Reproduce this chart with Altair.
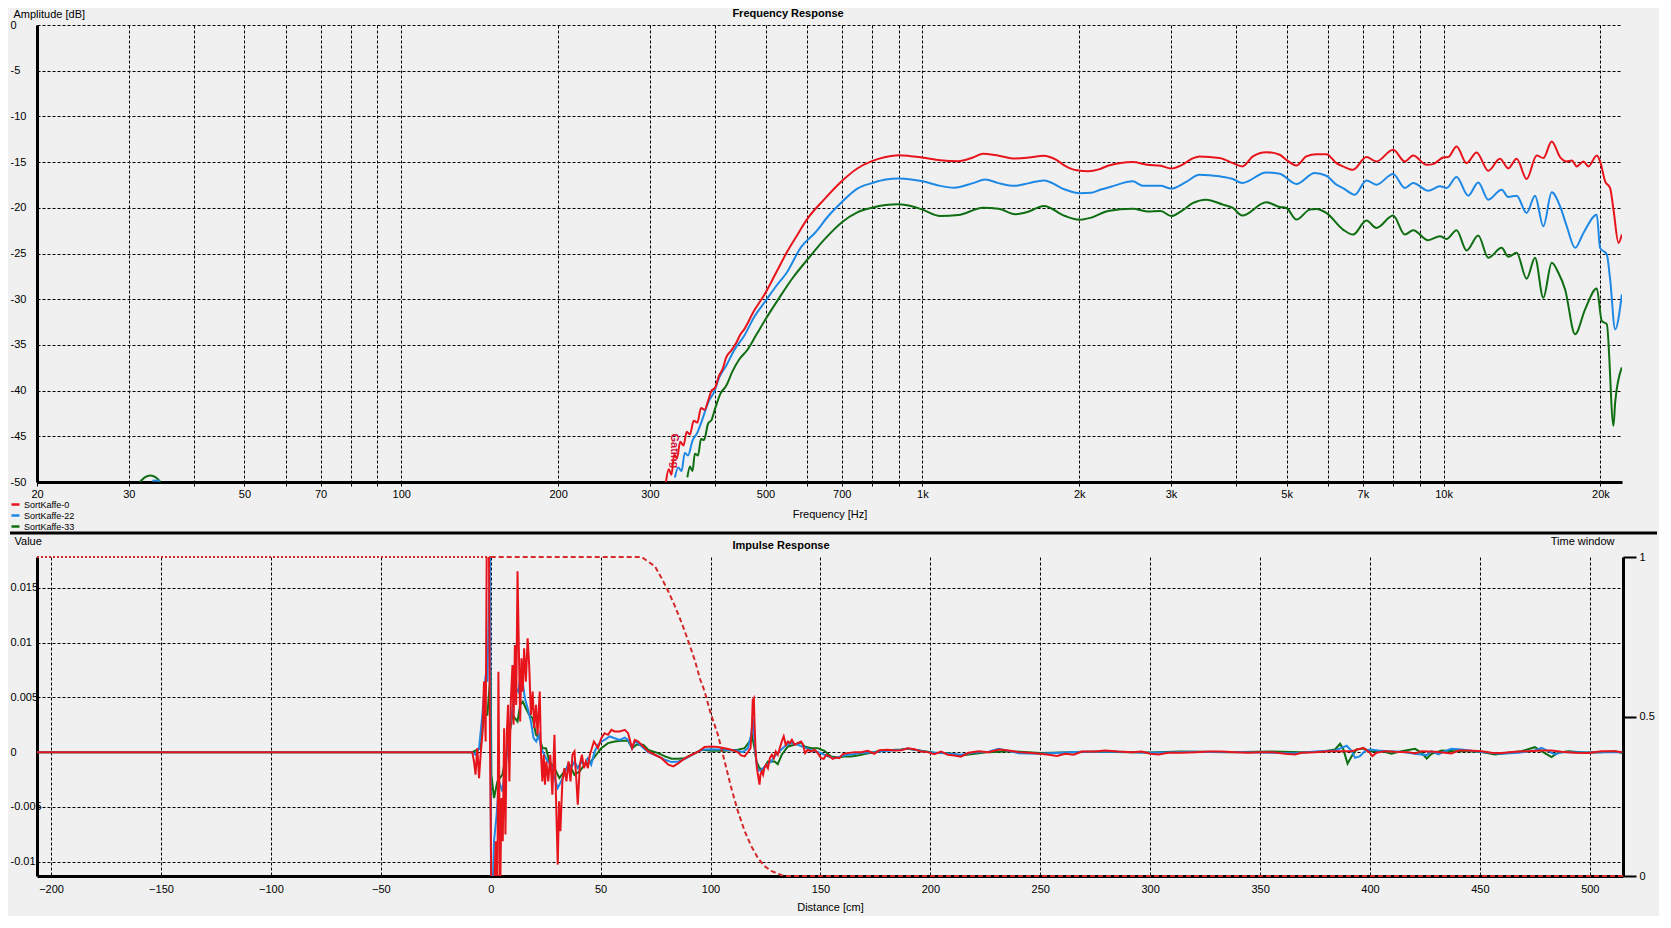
import altair as alt
import pandas as pd

FONT = "Liberation Sans"
BG = "#f0f0f0"
INK = "#000000"
SERIES = ["SortKaffe-0", "SortKaffe-22", "SortKaffe-33"]
COLORS = ["#e8141c", "#1e88e5", "#0f6e12"]
WINDOW_COLOR = "#d42a2a"
GATING_COLOR = "#d0103a"

# ---------------- Frequency response (Hz, dB) ----------------
FR_RED = [(322,-50.0),(326,-48.6),(330,-49.2),(334,-47.0),(338,-47.4),(343,-45.6),(348,-46.0),(353,-44.5),(358,-44.8),(364,-43.3),(370,-43.5),(376,-41.9),(382,-42.1),(388,-41.1),(394,-40.0),(400,-39.7),(407,-38.4),(414,-37.6),(420,-36.4),(430,-35.6),(440,-34.7),(447,-33.9),(455,-33.3),(475,-31.3),(500,-29.3),(525,-27.0),(549,-24.9),(575,-23.0),(600,-21.3),(650,-19.0),(700,-17.1),(750,-15.7),(800,-14.9),(850,-14.45),(900,-14.24),(950,-14.35),(1000,-14.5),(1082,-14.8),(1171,-14.9),(1250,-14.5),(1307,-14.1),(1400,-14.3),(1506,-14.6),(1600,-14.5),(1710,-14.3),(1800,-14.7),(1878,-15.4),(1980,-15.9),(2080,-16.0),(2180,-15.8),(2270,-15.4),(2400,-15.1),(2533,-15.0),(2700,-15.3),(2866,-15.4),(3000,-15.7),(3150,-15.3),(3300,-14.6),(3401,-14.38),(3716,-14.56),(3943,-15.11),(4109,-15.47),(4306,-14.38),(4568,-13.91),(4849,-14.2),(4994,-14.75),(5220,-15.36),(5453,-14.38),(5700,-14.13),(5957,-14.13),(6228,-15.11),(6413,-15.47),(6704,-15.84),(7112,-14.45),(7432,-14.93),(8003,-13.65),(8428,-14.93),(8744,-14.27),(9275,-15.29),(9552,-15.22),(9986,-14.49),(10209,-14.45),(10593,-13.29),(11071,-15.11),(11571,-13.95),(12186,-15.95),(12829,-14.64),(13312,-15.69),(13812,-14.64),(14436,-16.85),(15090,-14.27),(15541,-14.56),(16128,-12.75),(16734,-14.45),(17236,-14.93),(17622,-14.82),(18016,-15.47),(18555,-14.93),(18967,-15.47),(19679,-14.27),(19971,-14.93),(20420,-17.1),(20877,-17.84),(21188,-20.2),(21663,-23.84),(21985,-22.93)]

FR_BLUE = [(335,-49.5),(340,-48.4),(345,-48.8),(350,-46.8),(355,-47.1),(362,-45.5),(370,-44.6),(378,-43.2),(388,-41.3),(398,-40.2),(408,-38.5),(420,-37.3),(435,-35.6),(455,-34.0),(475,-32.0),(500,-30.2),(525,-28.5),(549,-27.1),(585,-24.3),(623,-22.7),(660,-20.9),(700,-19.4),(750,-17.9),(800,-17.3),(850,-16.9),(900,-16.8),(950,-16.9),(1000,-17.1),(1082,-17.6),(1150,-17.8),(1250,-17.3),(1320,-16.9),(1400,-17.3),(1506,-17.6),(1600,-17.3),(1710,-17.0),(1878,-18.0),(2000,-18.4),(2110,-18.35),(2200,-18.0),(2300,-17.7),(2533,-17.1),(2650,-17.6),(2866,-17.6),(3000,-17.9),(3200,-17.2),(3401,-16.38),(3716,-16.56),(3943,-16.85),(4109,-17.29),(4568,-16.13),(4849,-16.27),(5220,-17.4),(5660,-16.2),(5957,-16.49),(6228,-17.47),(6413,-17.84),(6757,-18.56),(7112,-17.0),(7432,-17.47),(8003,-16.31),(8428,-17.84),(8744,-17.29),(9344,-18.13),(9840,-17.65),(10133,-17.84),(10593,-16.64),(11152,-18.67),(11657,-17.22),(12186,-19.11),(12924,-18.02),(13312,-18.82),(13812,-18.67),(14436,-20.56),(14980,-18.67),(15541,-22.02),(16128,-18.31),(16734,-19.84),(17236,-22.02),(17883,-24.38),(18555,-22.75),(19679,-20.75),(19971,-24.38),(20573,-25.11),(20877,-27.84),(21346,-33.29),(21985,-29.47)]

FR_GREEN = [(354,-49.5),(358,-48.3),(362,-48.8),(366,-46.9),(371,-47.1),(376,-45.3),(381,-45.4),(388,-43.6),(394,-43.2),(400,-42.0),(410,-40.3),(420,-39.5),(432,-37.9),(445,-36.6),(462,-35.5),(480,-33.9),(500,-32.2),(532,-29.8),(565,-27.6),(603,-25.6),(650,-23.4),(700,-21.6),(750,-20.5),(800,-20.0),(850,-19.7),(900,-19.6),(950,-19.8),(1000,-20.2),(1082,-20.9),(1171,-20.8),(1307,-20.0),(1400,-20.1),(1506,-20.7),(1600,-20.4),(1710,-19.8),(1878,-20.9),(2000,-21.3),(2100,-21.1),(2270,-20.35),(2533,-20.1),(2700,-20.4),(2866,-20.35),(3000,-20.9),(3150,-20.3),(3300,-19.5),(3502,-19.11),(3772,-19.65),(3943,-20.02),(4109,-20.85),(4568,-19.4),(4849,-19.91),(4994,-20.02),(5220,-21.29),(5536,-20.2),(5700,-20.13),(5957,-20.56),(6413,-22.38),(6704,-22.93),(7112,-21.4),(7432,-22.2),(8003,-20.85),(8428,-22.93),(8744,-22.45),(9344,-23.55),(9840,-23.11),(10133,-23.4),(10593,-22.45),(11071,-24.67),(11657,-23.04),(12186,-25.47),(12924,-24.38),(13312,-25.36),(13812,-24.93),(14436,-27.76),(14980,-25.47),(15541,-29.84),(16128,-26.02),(16610,-27.11),(17110,-28.93),(17883,-33.84),(18690,-31.11),(19679,-28.82),(20120,-32.38),(20573,-32.75),(21188,-43.84),(21346,-41.29),(21985,-37.47)]

FR_GREEN_LOW = [(31.5,-50.0),(32.2,-49.5),(33.0,-49.3),(33.8,-49.5),(34.5,-50.0)]
FR_BLUE_LOW = [(33.3,-49.85),(34.4,-49.85)]

GATING_LABEL = [(333, -46.6, "Gating")]

FREQ_GRID = [20,30,40,50,60,70,80,90,100,200,300,400,500,600,700,800,900,
             1000,2000,3000,4000,5000,6000,7000,8000,9000,10000,20000]
FREQ_LABELS = [20,30,50,70,100,200,300,500,700,1000,2000,3000,5000,7000,10000,20000]
DB_TICKS = [-50,-45,-40,-35,-30,-25,-20,-15,-10,-5,0]

# ---------------- Impulse response (cm, value x 1e-3) ----------------
IR_RED = [(-206.4,0),(-9.0,0),(-8.4,0),(-7.6,-0.85),(-6.9,-2.06),(-6.1,0.36),(-5.3,-2.37),(-4.6,-0.24),(-3.8,1.58),(-3.05,6.43),(-2.3,0.97),(-1.8,19.0),(-0.8,19.0),(-0.3,0.36),(0.3,-13.0),(1.5,-13.0),(2.3,-8.13),(3.05,-13.0),(3.5,7.34),(4.3,-13.0),(4.9,-4.19),(5.5,-8.13),(6.1,2.18),(6.7,-7.52),(7.3,1.58),(7.9,4.31),(8.5,-2.67),(9.15,4.61),(9.9,7.95),(10.4,2.49),(11.0,9.77),(11.6,4.31),(12.2,16.5),(12.8,9.47),(13.4,2.79),(14.0,8.56),(14.6,5.52),(15.2,9.47),(16.0,6.43),(16.8,10.38),(17.5,7.95),(18.3,3.40),(19.1,5.52),(19.8,2.18),(20.6,4.31),(21.3,1.58),(22.3,5.52),(22.9,-0.24),(23.5,-2.67),(24.1,-0.24),(24.7,-2.97),(25.3,-0.85),(26.2,-2.67),(27.1,-0.24),(28.05,-3.88),(29.0,1.58),(29.9,-5.70),(30.5,-10.26),(31.1,-4.49),(31.7,-7.22),(32.6,-2.67),(33.5,-1.46),(34.45,-2.67),(35.4,-0.85),(36.3,-2.67),(37.2,-0.24),(38.1,0.06),(39.0,-2.67),(39.6,-4.79),(40.55,-1.15),(41.5,-0.24),(42.4,-1.46),(43.3,-0.85),(44.2,-1.46),(45.1,-0.24),(46.0,0.36),(46.95,0.97),(47.9,0.67),(48.8,0.36),(50.3,1.27),(51.8,1.73),(53.35,1.58),(54.9,2.03),(56.4,1.88),(58.7,1.88),(61.0,2.03),(62.5,1.73),(63.3,1.12),(64.3,0.36),(65.55,1.12),(67.1,0.97),(68.6,0.67),(71.65,0.06),(74.7,-0.24),(77.7,-0.55),(80.8,-1.15),(83.1,-1.30),(85.4,-1.00),(88.4,-0.55),(91.5,-0.24),(94.5,0.06),(97.3,0.46),(100.3,0.52),(103.3,0.46),(106.4,0.36),(109.4,0.21),(112.4,0),(113.9,-0.30),(115.5,-0.39),(117.0,0),(118.2,0.36),(118.8,2.18),(119.2,4.76),(119.7,4.92),(120.0,2.79),(120.5,0.06),(121.1,-1.46),(121.8,-2.37),(122.3,-2.97),(122.7,-2.06),(123.3,-1.76),(123.9,-2.06),(124.5,-1.46),(125.3,-1.15),(126.1,-1.46),(127.0,-0.55),(127.9,-0.24),(128.8,-0.55),(129.7,0.06),(130.6,-0.24),(131.5,0.36),(132.4,0.97),(133.3,1.43),(134.2,0.67),(135.2,0.97),(136.1,0.82),(137.0,1.12),(138.2,0.67),(139.7,0.82),(141.2,0.97),(142.1,0.67),(143.0,-0.09),(144.2,0.21),(145.8,0.06),(147.3,0.21),(148.8,-0.09),(150.3,-0.55),(151.5,-0.61),(152.7,-0.24),(154.1,-0.39),(155.6,-0.61),(157.1,-0.49),(158.6,-0.55),(160.2,-0.18),(162.4,-0.09),(165.5,0),(168.5,0),(171.5,0.12),(174.5,-0.15),(176.8,0.18),(180.6,0.21),(183.6,0.15),(186.7,0.18),(189.7,0.36),(192.7,0.27),(195.8,0.06),(198.8,0),(201.8,-0.18),(204.9,0.06),(207.9,-0.24),(210.9,-0.30),(213.9,-0.42),(217.4,-0.06),(222.0,0.09),(226.5,0),(231.1,0.24),(235.6,0.15),(240.2,0),(244.7,-0.06),(250,-0.15),(253.8,-0.24),(257.6,-0.36),(261.4,-0.15),(265.2,-0.24),(268.9,0.06),(275.0,0.06),(279.5,0.15),(285.6,0.06),(291.7,0),(296.2,0.06),(300,-0.15),(303.8,-0.21),(308.3,-0.06),(314.4,-0.06),(320.5,0),(326.5,0.06),(332.6,0.06),(338.6,0),(344.7,-0.06),(350,0),(355.3,0),(361.4,-0.15),(365.9,-0.21),(368.9,-0.06),(375.0,0),(381.1,0.09),(385.6,0.09),(391.7,0.09),(397.0,0.39),(400,-0.06),(401.1,-0.36),(403.0,-0.06),(406.8,0.09),(411.4,0.03),(417.4,0),(420.5,-0.12),(423.5,0.09),(429.5,0.03),(434.1,-0.06),(437.1,-0.12),(440.2,0.15),(444.7,0.15),(450.8,0.09),(455.3,-0.06),(459.8,-0.09),(465.9,0.03),(472.0,0.09),(478.0,0.15),(482.6,0.15),(487.1,0.03),(493.2,-0.06),(499.2,-0.09),(505.3,0.09),(511.4,0.09),(514.8,0)]

IR_BLUE = [(-206.4,0),(-8.4,0),(-6.9,-0.24),(-5.3,0.36),(-3.8,3.40),(-2.3,7.04),(-1.5,6.43),(-0.3,19.0),(0.15,-13.0),(0.8,-13.0),(1.5,-8.13),(2.7,-5.70),(3.8,-2.67),(5.3,-3.58),(6.9,-1.15),(8.4,1.58),(9.9,4.00),(11.4,5.83),(12.5,5.52),(13.4,6.74),(14.5,6.43),(15.55,4.92),(16.8,4.00),(18.3,2.79),(19.5,1.27),(20.7,0.97),(21.95,1.58),(22.9,0.36),(24.4,-0.24),(25.9,-0.85),(27.4,-1.15),(29.0,-2.37),(30.5,-3.28),(32.0,-2.67),(33.5,-2.06),(35.1,-1.15),(36.6,-1.46),(38.1,-0.85),(39.6,-1.46),(41.2,-0.85),(42.7,-1.15),(44.2,-0.55),(45.7,-1.15),(47.3,0.06),(48.8,0.67),(50.3,0.97),(51.8,1.12),(54.1,1.43),(56.4,1.27),(58.7,1.12),(61.0,1.33),(62.5,1.12),(64.3,0.36),(65.55,0.97),(67.8,0.67),(71.65,0),(76.2,-0.39),(79.3,-0.70),(82.3,-0.91),(85.4,-0.85),(88.4,-0.61),(93.0,-0.09),(96.0,0.21),(100.3,0.27),(106.4,0.21),(112.4,0.12),(114.7,0),(117.0,0.36),(118.5,1.58),(119.2,3.09),(120.0,0.97),(120.8,-0.85),(121.5,-1.61),(122.7,-1.70),(123.9,-1.46),(125.5,-1.15),(127.6,-0.85),(129.7,-0.24),(132.1,0.21),(134.5,0.67),(136.7,0.82),(139.7,0.67),(143.5,0.36),(145.8,0.18),(148.0,0.06),(150.3,-0.09),(153.3,-0.39),(156.4,-0.55),(159.4,-0.39),(162.4,-0.24),(165.5,-0.18),(168.5,-0.09),(174.5,0),(180.6,0.12),(186.7,0.21),(189.7,0.33),(194.2,0.18),(198.8,0),(204.9,-0.09),(213.9,-0.24),(220.0,-0.03),(226.5,0.03),(231.1,0.30),(240.2,-0.10),(250,-0.15),(253.8,-0.10),(268.9,0.03),(285.6,0.03),(300,-0.06),(320.5,0.03),(344.7,0),(365.9,-0.10),(376.5,0.09),(384.1,0.15),(387.1,0.39),(389.4,0.58),(391.7,0.09),(393.2,-0.52),(395.5,-0.36),(397.7,0.09),(400,0.24),(403.8,0.15),(408.3,0.09),(414.4,0.03),(420.5,-0.15),(425.8,-0.27),(428.0,0.09),(431.1,-0.21),(434.1,0.09),(437.1,0.30),(441.7,0.24),(447.7,0.09),(453.8,-0.06),(459.8,-0.15),(467.4,-0.06),(475.0,0.15),(478.0,0.39),(481.1,0.09),(484.1,-0.21),(487.1,0),(493.2,0),(499.2,-0.03),(505.3,0),(514.8,0)]

IR_GREEN = [(-206.4,0),(-8.4,0),(-4.6,0.36),(-3.05,3.40),(-1.5,3.40),(0,7.40),(0.3,-2.06),(1.5,-4.19),(3.05,-2.67),(5.3,-2.06),(7.6,0.36),(9.9,3.40),(12.2,2.79),(13.4,4.31),(14.6,4.61),(16.0,4.00),(17.5,3.40),(19.1,3.09),(20.6,1.58),(22.1,1.27),(23.6,0.36),(25.15,0.36),(26.7,-0.85),(29.0,-1.46),(31.25,-2.37),(33.5,-1.76),(35.8,-1.15),(38.1,-2.06),(40.4,-1.76),(42.7,-1.15),(45.7,-0.85),(48.0,-0.24),(50.3,0.36),(53.35,0.82),(56.4,0.97),(59.45,1.03),(62.5,1.03),(64.3,0.36),(66.3,0.67),(69.4,0.67),(71.65,0.21),(76.2,-0.09),(79.3,-0.39),(82.3,-0.61),(85.4,-0.61),(88.4,-0.55),(93.0,-0.09),(96.0,0.21),(100.3,0.12),(106.4,0.12),(112.4,0.21),(115.5,0.36),(117.7,0.97),(118.8,1.58),(120.0,0.36),(120.9,-0.85),(122.3,-1.46),(123.9,-1.61),(126.1,-0.85),(129.1,-0.85),(130.6,-1.09),(132.4,-0.24),(135.2,0.52),(138.2,0.67),(141.2,0.91),(142.7,0.52),(145.8,0.36),(148.8,0.36),(151.8,0.12),(154.8,-0.39),(157.9,-0.49),(160.9,-0.39),(163.9,-0.39),(167.0,-0.30),(170.0,-0.18),(173.0,-0.06),(177.6,0.12),(180.6,0.18),(186.7,0.24),(189.7,0.30),(195.8,0.12),(201.8,-0.06),(207.9,-0.09),(213.9,-0.30),(226.5,0),(235.6,0.09),(250,-0.09),(275,0.03),(300,-0.03),(314,0.06),(335,0),(355,0.06),(368.9,0),(378.0,0.03),(384.1,0.24),(386.4,0.76),(387.9,0.24),(389.8,-1.06),(391.7,-0.36),(393.9,0.24),(397.0,0.33),(400,0.09),(405.3,0.09),(409.8,-0.15),(414.4,0.09),(420.5,0.30),(423.5,-0.06),(425.8,-0.58),(428.0,-0.15),(432.6,0.15),(438.6,0.09),(444.7,0.09),(450.8,0),(456.8,-0.21),(462.9,-0.06),(469.0,0.09),(475.0,0.45),(478.0,0.09),(482.6,-0.45),(485.6,-0.06),(490.2,0.09),(497.7,-0.03),(505.3,0),(511.4,0.09),(514.8,-0.09)]

WINDOW_PRE = [(-206.4,1.0),(0,1.0)]
WINDOW_POST = [(0,1.0),(68.6,1.0),(74.7,0.971),(77.7,0.934),(80.8,0.892),(83.8,0.846),(86.9,0.793),(89.9,0.736),(93.0,0.673),(95.3,0.616),(97.3,0.579),(100,0.511),(103.3,0.444),(106.4,0.36),(109.4,0.277),(112.4,0.204),(115.5,0.141),(118.5,0.094),(121.5,0.057),(124.5,0.031),(127.6,0.016),(132.1,0.003),(133.6,0.0),(515.1,0.0)]

DIST_TICKS = [-200,-150,-100,-50,0,50,100,150,200,250,300,350,400,450,500]
VALUE_TICKS = [-0.01,-0.005,0,0.005,0.01,0.015]
WINDOW_TICKS = [0,0.5,1]

# ---------------- frames ----------------
def fr_frame(pairs, name, seg):
    return pd.DataFrame({"f": [p[0] for p in pairs], "db": [p[1] for p in pairs],
                         "series": name, "seg": seg})

fr_red = fr_frame(FR_RED, SERIES[0], 0)
fr_blue = pd.concat([fr_frame(FR_BLUE_LOW, SERIES[1], 0), fr_frame(FR_BLUE, SERIES[1], 1)])
fr_green = pd.concat([fr_frame(FR_GREEN_LOW, SERIES[2], 0), fr_frame(FR_GREEN, SERIES[2], 1)])
gating_df = pd.DataFrame({"f": [g[0] for g in GATING_LABEL], "db": [g[1] for g in GATING_LABEL],
                          "t": [g[2] for g in GATING_LABEL]})

def ir_frame(pairs):
    return pd.DataFrame({"d": [p[0] for p in pairs], "v": [p[1] / 1000.0 for p in pairs]})

win_df = pd.concat([
    pd.DataFrame({"d": [p[0] for p in WINDOW_PRE], "w": [p[1] for p in WINDOW_PRE], "part": "pre"}),
    pd.DataFrame({"d": [p[0] for p in WINDOW_POST], "w": [p[1] for p in WINDOW_POST], "part": "post"}),
])
one_row = pd.DataFrame({"k": [0]})

# ---------------- top panel ----------------
W_TOP, H_TOP = 1585, 457
freq_label_expr = (
    "indexof(" + str(FREQ_LABELS) + ", datum.value) >= 0 ? "
    "(datum.value >= 1000 ? (datum.value / 1000) + 'k' : '' + datum.value) : ''"
)
x_f = alt.X("f:Q", scale=alt.Scale(type="log", domain=[20, 22000], nice=False),
            axis=alt.Axis(values=FREQ_GRID, labelExpr=freq_label_expr, grid=True,
                          ticks=True, tickSize=4, tickColor=INK, labelPadding=2,
                          domainWidth=3, title="Frequency [Hz]", titlePadding=9))
y_db = alt.Y("db:Q", scale=alt.Scale(domain=[-50, 0], nice=False),
             axis=alt.Axis(values=DB_TICKS, labelExpr="'' + datum.value", grid=True,
                           ticks=False, labelAlign="left", labelPadding=27, domainWidth=3,
                           title="Amplitude [dB]", titleAngle=0, titleAlign="left",
                           titleBaseline="middle", titleX=-24, titleY=-10.5))
col = alt.Color("series:N", scale=alt.Scale(domain=SERIES, range=COLORS),
                legend=alt.Legend(orient="none", legendX=-27, legendY=474, title=None,
                                  direction="vertical", labelFontSize=9, labelFont=FONT,
                                  labelColor=INK, symbolType="stroke", symbolStrokeWidth=2.5,
                                  symbolSize=64, rowPadding=-3, labelOffset=3, padding=0))

def fr_line(df):
    return alt.Chart(df).mark_line(strokeWidth=2, clip=True, interpolate="monotone").encode(
        x=x_f, y=y_db, color=col, detail="seg:N")

gating = alt.Chart(gating_df).mark_text(angle=90, color=GATING_COLOR, fontSize=11,
                                        fontWeight="bold", font=FONT).encode(
    x=x_f, y=y_db, text="t:N")

top_title = alt.Chart(one_row).mark_text(fontWeight="bold", fontSize=11, font=FONT, color=INK,
                                         align="center", baseline="middle").encode(
    x=alt.value(751), y=alt.value(-10.7), text=alt.value("Frequency Response"))

separator = alt.Chart(one_row).mark_rule(color=INK, strokeWidth=3).encode(
    x=alt.value(-27), x2=alt.value(1620), y=alt.value(508))

top = alt.layer(gating, fr_line(fr_green), fr_line(fr_blue), fr_line(fr_red),
                top_title, separator).properties(width=W_TOP, height=H_TOP)

# ---------------- bottom panel ----------------
W_BOT, H_BOT = 1586, 319
x_d = alt.X("d:Q", scale=alt.Scale(domain=[-206.4, 515.1], nice=False),
            axis=alt.Axis(values=DIST_TICKS, grid=True, ticks=False, labelPadding=7,
                          domainWidth=3, title="Distance [cm]", titlePadding=7))
y_v = alt.Y("v:Q", scale=alt.Scale(domain=[-0.0113, 0.0178], nice=False),
            axis=alt.Axis(values=VALUE_TICKS, labelExpr="'' + datum.value", grid=True,
                          ticks=False, labelAlign="left", labelPadding=27, domainWidth=3,
                          title="Value", titleAngle=0, titleAlign="left",
                          titleBaseline="middle", titleX=-23, titleY=-16))

def ir_line(pairs, color):
    return alt.Chart(ir_frame(pairs)).mark_line(color=color, strokeWidth=2, clip=True).encode(
        x=x_d, y=y_v)

impulse = alt.layer(ir_line(IR_GREEN, COLORS[2]), ir_line(IR_BLUE, COLORS[1]),
                    ir_line(IR_RED, COLORS[0]))

window = alt.Chart(win_df).mark_line(color=WINDOW_COLOR, strokeWidth=2).encode(
    x=x_d,
    y=alt.Y("w:Q", scale=alt.Scale(domain=[0, 1], nice=False),
            axis=alt.Axis(orient="right", values=WINDOW_TICKS, labelExpr="'' + datum.value",
                          grid=False, ticks=True,
                          tickSize=13, tickWidth=2, tickColor=INK, labelPadding=3,
                          domainWidth=3, title="Time window", titleAngle=0,
                          titleAlign="right", titleBaseline="middle", titleX=-9, titleY=-16)),
    strokeDash=alt.StrokeDash("part:N", scale=alt.Scale(domain=["pre", "post"],
                                                        range=[[2, 2], [5, 3]]), legend=None),
)

bot_title = alt.Chart(one_row).mark_text(fontWeight="bold", fontSize=11, font=FONT, color=INK,
                                         align="center", baseline="middle").encode(
    x=alt.value(744), y=alt.value(-10.7), text=alt.value("Impulse Response"))

bottom = alt.layer(impulse, window, bot_title).resolve_scale(y="independent").properties(
    width=W_BOT, height=H_BOT)

chart = alt.vconcat(top, bottom, spacing=0).properties(
    padding={"left": 0, "top": 0, "right": 0, "bottom": 4}
).configure(
    font=FONT, background=BG
).configure_view(stroke=None).configure_axis(
    labelColor=INK, titleColor=INK, domainColor=INK, tickColor=INK,
    gridColor=INK, gridDash=[3, 2], gridOpacity=1, gridWidth=1,
    labelFontSize=11, titleFontSize=11, titleFontWeight="normal",
    labelFont=FONT, titleFont=FONT, labelFlush=False, labelOverlap=False
)

chart.save("out.html", embed_options={"renderer": "svg", "actions": False})
